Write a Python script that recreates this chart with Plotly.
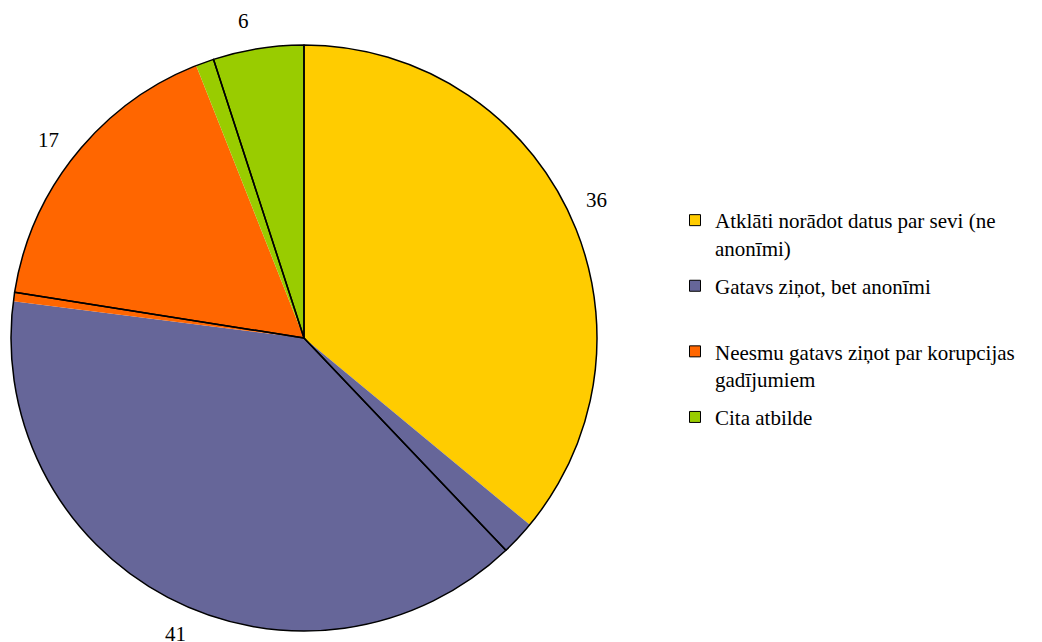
import math
import plotly.graph_objects as go

# ---- data ----
categories = [
    "Atklāti norādot datus par sevi (ne<br>anonīmi)",
    "Gatavs ziņot, bet anonīmi<br>&nbsp;",
    "Neesmu gatavs ziņot par korupcijas<br>gadījumiem",
    "Cita atbilde",
]
values = [36, 41, 17, 6]
value_labels = ["36", "41", "17", "6"]
# outline segments as drawn in the reference (borders offset from fills)
outline_values = [37.9, 39.6, 17.5, 5.0]
colors = ["#FFCC00", "#666699", "#FF6600", "#99CC00"]

# ---- layout constants ----
W, H = 1042, 642
CX, CY_TOP, R = 304, 338, 293
LABEL_R = 323
FONT = "Times New Roman, Liberation Serif, serif"

dom_x = [(CX - R) / W, (CX + R) / W]
cy_b = H - CY_TOP
dom_y = [(cy_b - R) / H, (cy_b + R) / H]

fig = go.Figure()
fig.add_trace(go.Pie(
    values=values, labels=[f"f{i}" for i in range(len(values))],
    marker=dict(colors=colors, line=dict(width=0)),
    sort=False, direction="clockwise", rotation=0,
    textinfo="none", hoverinfo="skip", showlegend=False,
    domain=dict(x=dom_x, y=dom_y),
))
fig.add_trace(go.Pie(
    values=outline_values, labels=[f"o{i}" for i in range(len(outline_values))],
    marker=dict(colors=["rgba(0,0,0,0)"] * 4, line=dict(color="black", width=1.5)),
    sort=False, direction="clockwise", rotation=0,
    textinfo="none", hoverinfo="skip", showlegend=False,
    domain=dict(x=dom_x, y=dom_y),
))

# legend entries
for i, (lab, col) in enumerate(zip(categories, colors)):
    fig.add_trace(go.Scatter(
        x=[None], y=[None], mode="markers", name=lab, legendgroup=f"g{i}",
        marker=dict(symbol="square", size=11, color=col, line=dict(color="black", width=1)),
    ))

# value labels outside the slices
total = sum(values)
cum = 0
annotations = []
for v, t in zip(values, value_labels):
    mid = (cum + v / 2) / total * 2 * math.pi
    cum += v
    px = CX + LABEL_R * math.sin(mid)
    py = cy_b + LABEL_R * math.cos(mid)
    annotations.append(dict(
        x=px / W, y=py / H, xref="paper", yref="paper", text=t, showarrow=False,
        font=dict(family=FONT, size=21, color="black"),
        xanchor="center", yanchor="middle",
    ))

fig.update_layout(
    width=W, height=H,
    margin=dict(l=0, r=0, t=0, b=0),
    paper_bgcolor="white", plot_bgcolor="white",
    xaxis=dict(visible=False), yaxis=dict(visible=False),
    annotations=annotations,
    legend=dict(
        x=675 / W, y=1 - 200 / H, xanchor="left", yanchor="top",
        font=dict(family=FONT, size=21, color="black"),
        valign="top", tracegroupgap=8, traceorder="grouped",
        bgcolor="rgba(0,0,0,0)",
    ),
    showlegend=True,
)

fig.write_html(
    "out.html",
    config={"displayModeBar": False},
    post_script="document.body.style.margin='0';document.body.style.overflow='hidden';",
)
